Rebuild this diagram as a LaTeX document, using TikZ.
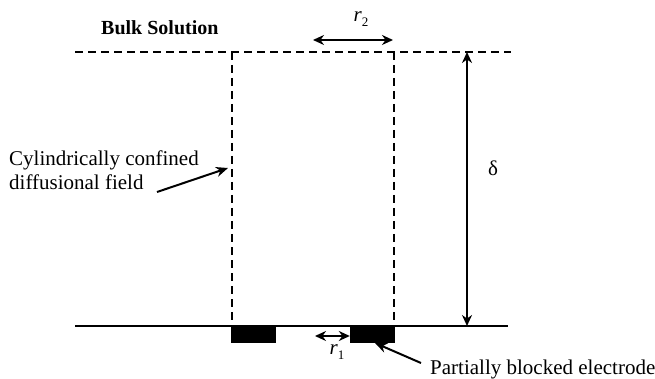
\documentclass[tikz,border=0pt]{standalone}
\usepackage{fontspec}
\setmainfont{Liberation Serif}
\usetikzlibrary{arrows.meta}
\newcommand{\myvar}[1]{\textit{r}\raisebox{-0.45ex}{\fontsize{13}{13}\selectfont #1}}
\begin{document}
\begin{tikzpicture}[x=1pt,y=-1pt,
  dline/.style={line width=1.3pt,dash pattern=on 8pt off 5pt},
  sline/.style={line width=1.8pt},
  dimarrow/.style={line width=2pt,{Stealth[length=11pt,width=10pt]}-{Stealth[length=11pt,width=10pt]}},
  ptr/.style={line width=2pt,-{Stealth[length=12pt,width=10pt]}},
  lbl/.style={font=\fontsize{21}{24}\selectfont,inner sep=0pt},
  block/.style={fill=black,draw=none}]
\useasboundingbox (0,0) rectangle (655,379);
% lines
\coordinate (TL) at (75,52);
\coordinate (TR) at (511,52);
\coordinate (BL) at (75,326);
\coordinate (BR) at (508,326);
\draw[dline] (TL) -- (TR);
\draw[sline] (BL) -- (BR);
\coordinate (V1t) at (232,52); \coordinate (V1b) at (232,326);
\coordinate (V2t) at (394,52); \coordinate (V2b) at (394,326);
\draw[dline] (V1t) -- (V1b);
\draw[dline] (V2t) -- (V2b);
% blocks
\node[block,minimum width=45pt,minimum height=17pt,inner sep=0pt] (blk1) at (253.5,334) {};
\node[block,minimum width=45pt,minimum height=17pt,inner sep=0pt] (blk2) at (372.5,334) {};
% r1
\coordinate (r1a) at (315,336);
\draw[dimarrow] (r1a) -- (blk2.west |- r1a);
\node[lbl] (r1) at (337,352) {\myvar{1}};
% r2
\coordinate (r2a) at (313,40); \coordinate (r2b) at (393,40);
\draw[dimarrow] (r2a) -- (r2b);
\node[lbl] (r2) at (361,19) {\myvar{2}};
% delta
\coordinate (dt) at (467,52); \coordinate (db) at (467,326);
\draw[dimarrow] (dt) -- (db);
\node[lbl] (delta) at (493,168) {δ};
% texts
\node[lbl,font=\fontsize{20}{23}\selectfont\bfseries,anchor=west] (bulk) at (101,28) {Bulk Solution};
\node[lbl,anchor=north west,align=left] (cyl) at (9,151) {Cylindrically confined\\diffusional field};
\node[lbl,anchor=west] (pbe) at (430,369) {Partially blocked electrode};
% pointers
\coordinate (cylfrom) at (157,192); \coordinate (cylto) at (228,168);
\draw[ptr] (cylfrom) -- (cylto);
\coordinate (pbefrom) at (421,363); \coordinate (pbeto) at (375,343);
\draw[ptr] (pbefrom) -- (pbeto);
\end{tikzpicture}
\end{document}
